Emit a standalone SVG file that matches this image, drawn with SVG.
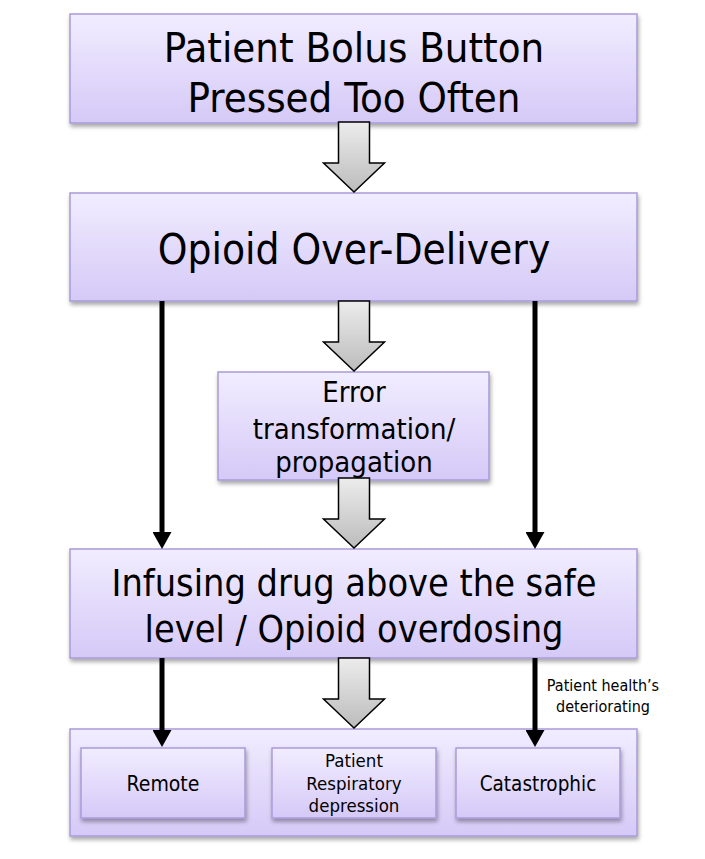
<svg xmlns="http://www.w3.org/2000/svg" width="705" height="859" viewBox="0 0 705 859">
<defs>
<linearGradient id="lav" x1="0" y1="0" x2="0" y2="1">
<stop offset="0" stop-color="#f1edff"/>
<stop offset="1" stop-color="#d5c9f7"/>
</linearGradient>
<linearGradient id="gray" x1="0" y1="0" x2="0" y2="1">
<stop offset="0" stop-color="#ececec"/>
<stop offset="1" stop-color="#bcbcbc"/>
</linearGradient>
<filter id="sh" x="-5%" y="-5%" width="110%" height="120%">
<feDropShadow dx="1" dy="3" stdDeviation="2" flood-color="#000" flood-opacity="0.35"/>
</filter>
<marker id="ah" viewBox="0 0 17 19" refX="4" refY="9.5" markerWidth="17" markerHeight="19" orient="auto" markerUnits="userSpaceOnUse">
<path d="M0,0 L17,9.5 L0,19 z" fill="#000"/>
</marker>
<path id="blk" d="M-15.5,0 H15.5 V41 H30.5 L0,70 L-30.5,41 H-15.5 Z"/>
</defs>
<style>
.box{fill:url(#lav);stroke:#a99ad9;stroke-width:1.5;filter:url(#sh)}
.t{font-family:"DejaVu Sans Condensed","DejaVu Sans",sans-serif;fill:#000;text-anchor:middle}
.ba{fill:url(#gray);stroke:#000;stroke-width:1.5}
.ln{stroke:#000;stroke-width:5;fill:none;marker-end:url(#ah)}
</style>
<g id="n1">
<rect class="box" x="70" y="14" width="567" height="109"/>
<text class="t" x="354" y="62" font-size="41.5">Patient Bolus Button</text>
<text class="t" x="354" y="112" font-size="41.5">Pressed Too Often</text>
</g>
<g id="n2">
<rect class="box" x="70" y="193" width="567" height="108"/>
<text class="t" x="354" y="264" font-size="42">Opioid Over-Delivery</text>
</g>
<g id="n3">
<rect class="box" x="218" y="372" width="271" height="108"/>
<text class="t" x="354" y="402" font-size="29">Error</text>
<text class="t" x="354" y="439" font-size="29">transformation/</text>
<text class="t" x="354" y="472" font-size="29">propagation</text>
</g>
<g id="n4">
<rect class="box" x="70" y="549" width="567" height="109"/>
<text class="t" x="354" y="596" font-size="37.5">Infusing drug above the safe</text>
<text class="t" x="354" y="642" font-size="37.5">level / Opioid overdosing</text>
</g>
<g id="n5">
<rect class="box" x="70" y="729" width="567" height="107"/>
</g>
<g id="n6">
<rect class="box" x="81" y="748" width="164" height="70"/>
<text class="t" x="163" y="791" font-size="21">Remote</text>
</g>
<g id="n7">
<rect class="box" x="272" y="748" width="164" height="70"/>
<text class="t" x="354" y="767" font-size="18.5">Patient</text>
<text class="t" x="354" y="790" font-size="18.5">Respiratory</text>
<text class="t" x="354" y="812" font-size="18.5">depression</text>
</g>
<g id="n8">
<rect class="box" x="456" y="748" width="164" height="70"/>
<text class="t" x="538" y="791" font-size="20.5">Catastrophic</text>
</g>
<g id="connectors">
<use href="#blk" class="ba" transform="translate(354,122)"/>
<use href="#blk" class="ba" transform="translate(354,301)"/>
<use href="#blk" class="ba" transform="translate(354,478)"/>
<use href="#blk" class="ba" transform="translate(354,658)"/>
<line class="ln" x1="162" y1="301" x2="162" y2="536"/>
<line class="ln" x1="535" y1="301" x2="535" y2="536"/>
<line class="ln" x1="162" y1="658" x2="162" y2="734"/>
<line class="ln" x1="535" y1="658" x2="535" y2="734"/>
<text class="t" x="603" y="691" font-size="16">Patient health’s</text>
<text class="t" x="603" y="712" font-size="16">deteriorating</text>
</g>
</svg>
